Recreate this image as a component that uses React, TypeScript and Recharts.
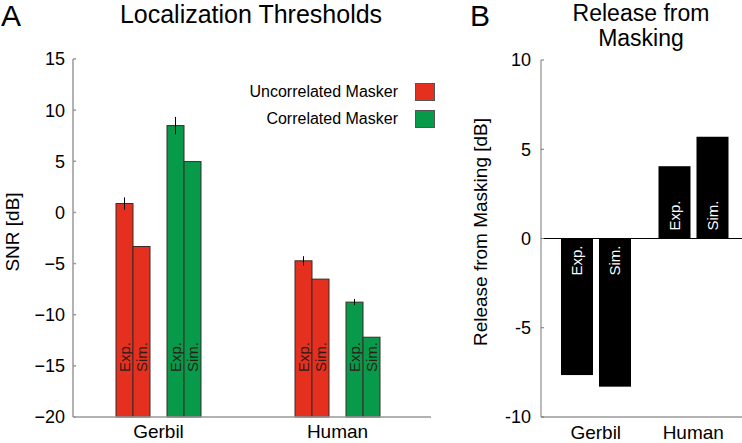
import { Bar, BarChart, ErrorBar, Legend, ReferenceLine, XAxis, YAxis } from "recharts";

const FONT = "'Liberation Sans', Arial, sans-serif";

const species = ["Gerbil", "Human"];

// localization thresholds, SNR [dB]
const uncorrExp = [0.87, -4.73];
const uncorrExpErr = [0.6, 0.45];
const uncorrSim = [-3.33, -6.52];
const corrExp = [8.49, -8.77];
const corrExpErr = [0.85, 0.3];
const corrSim = [4.97, -12.2];

// release from masking [dB]
const releaseExp = [-7.65, 4.05];
const releaseSim = [-8.3, 5.7];

const snrTicks = [-20, -15, -10, -5, 0, 5, 10, 15];
const releaseTicks = [-10, -5, 0, 5, 10];
const legendLabels = ["Uncorrelated Masker", "Correlated Masker"];

const RED = "#e6301f";
const GREEN = "#079a4a";
const SNR_MIN = -20;

const thresholdData = species.map((s, i) => ({
  species: s,
  uncorrExp: uncorrExp[i],
  uncorrExpErr: uncorrExpErr[i],
  uncorrSim: uncorrSim[i],
  corrExp: corrExp[i],
  corrExpErr: corrExpErr[i],
  corrSim: corrSim[i],
}));

const releaseData = species.map((s, i) => ({
  species: s,
  exp: releaseExp[i],
  sim: releaseSim[i],
}));

const minus = (v: number) => (v < 0 ? "\u2212" + Math.abs(v) : String(v));

function ThresholdBar(props: any) {
  const { x, y, width, height, fill, tag } = props;
  if (x == null || width == null) return null;
  const top = Math.min(y, y + height);
  const bottom = Math.max(y, y + height);
  const cx = x + width / 2;
  const ty = bottom - 45;
  return (
    <g>
      <rect x={x} y={top} width={width} height={bottom - top} fill={fill} stroke="#3b2b24" strokeWidth={1} />
      <text
        x={cx}
        y={ty}
        dy="0.35em"
        transform={`rotate(-90 ${cx} ${ty})`}
        fontSize={15}
        fontFamily={FONT}
        fill="#2a1c18"
      >
        {tag}
      </text>
    </g>
  );
}

function ReleaseBar(props: any) {
  const { x, y, width, height, tag, payload, dataKey } = props;
  if (x == null || width == null) return null;
  const top = Math.min(y, y + height);
  const bottom = Math.max(y, y + height);
  const cx = x + width / 2;
  const positive = payload[dataKey] >= 0;
  // label sits next to the zero line
  const ty = positive ? bottom - 8 : top + 7;
  return (
    <g>
      <rect x={x} y={top} width={width} height={bottom - top} fill="#000" />
      <text
        x={cx}
        y={ty}
        dy="0.35em"
        transform={`rotate(-90 ${cx} ${ty})`}
        textAnchor={positive ? "start" : "end"}
        fontSize={15}
        fontFamily={FONT}
        fill="#fff"
      >
        {tag}
      </text>
    </g>
  );
}

function ThresholdLegend() {
  const colors = [RED, GREEN];
  return (
    <div style={{ fontFamily: FONT, fontSize: 16, color: "#000" }}>
      {legendLabels.map((label, i) => (
        <div
          key={label}
          style={{ display: "flex", alignItems: "center", justifyContent: "flex-end", height: 27 }}
        >
          <span>{label}</span>
          <span
            style={{
              display: "inline-block",
              width: 20,
              height: 18,
              marginLeft: 17,
              background: colors[i],
              border: "1px solid #555",
              boxSizing: "border-box",
            }}
          />
        </div>
      ))}
    </div>
  );
}

export default function App() {
  const tickStyle = { fill: "#000", fontSize: 18, fontFamily: FONT };
  return (
    <div style={{ position: "absolute", left: 0, top: 0, width: 742, height: 443, background: "#fff", fontFamily: FONT }}>
      <div style={{ position: "absolute", left: 0, top: 0 }}>
        <BarChart
          width={450}
          height={443}
          data={thresholdData}
          margin={{ top: 59, right: 19, bottom: 0, left: 13 }}
          barSize={17}
          barGap={0}
        >
          <XAxis
            dataKey="species"
            height={26}
            padding={{ left: -4, right: 4 }}
            stroke="#999"
            strokeWidth={1.5}
            tickLine={false}
            tickSize={0}
            tickMargin={8}
            tick={{ ...tickStyle, fontSize: 19 }}
          />
          <YAxis
            width={60}
            domain={[SNR_MIN, 15]}
            ticks={snrTicks}
            tickFormatter={minus}
            interval={0}
            stroke="#999"
            strokeWidth={1.5}
            tickSize={-3}
            tickMargin={11}
            tick={tickStyle}
          />
          <Legend
            layout="vertical"
            align="center"
            verticalAlign="middle"
            content={() => <ThresholdLegend />}
            wrapperStyle={{ left: 230, top: 78, width: 205 }}
          />
          <Bar
            dataKey={(d: any) => [SNR_MIN, d.uncorrExp]}
            fill={RED}
            isAnimationActive={false}
            shape={(p: any) => <ThresholdBar {...p} tag="Exp." />}
          >
            <ErrorBar dataKey="uncorrExpErr" width={0} stroke="#000" strokeWidth={1} direction="y" />
          </Bar>
          <Bar
            dataKey={(d: any) => [SNR_MIN, d.uncorrSim]}
            fill={RED}
            isAnimationActive={false}
            shape={(p: any) => <ThresholdBar {...p} tag="Sim." />}
          />
          <Bar dataKey="gap" fill="none" isAnimationActive={false} legendType="none" />
          <Bar
            dataKey={(d: any) => [SNR_MIN, d.corrExp]}
            fill={GREEN}
            isAnimationActive={false}
            shape={(p: any) => <ThresholdBar {...p} tag="Exp." />}
          >
            <ErrorBar dataKey="corrExpErr" width={0} stroke="#000" strokeWidth={1} direction="y" />
          </Bar>
          <Bar
            dataKey={(d: any) => [SNR_MIN, d.corrSim]}
            fill={GREEN}
            isAnimationActive={false}
            shape={(p: any) => <ThresholdBar {...p} tag="Sim." />}
          />
        </BarChart>
      </div>

      <div style={{ position: "absolute", left: 450, top: 0 }}>
        <BarChart
          width={292}
          height={443}
          data={releaseData}
          margin={{ top: 60, right: 0, bottom: 0, left: 31 }}
          barSize={32}
          barGap={6}
        >
          <XAxis
            dataKey="species"
            height={26}
            padding={{ left: 6, right: 0 }}
            stroke="#999"
            strokeWidth={1.5}
            tickLine={false}
            tickSize={0}
            tickMargin={9}
            tick={{ ...tickStyle, fontSize: 19 }}
          />
          <YAxis
            width={60}
            domain={[-10, 10]}
            ticks={releaseTicks}
            interval={0}
            stroke="#777"
            tickSize={-3}
            tickMargin={13}
            tick={tickStyle}
          />
          <ReferenceLine y={0} stroke="#000" strokeWidth={1} />
          <Bar
            dataKey="exp"
            isAnimationActive={false}
            shape={(p: any) => <ReleaseBar {...p} tag="Exp." />}
          />
          <Bar
            dataKey="sim"
            isAnimationActive={false}
            shape={(p: any) => <ReleaseBar {...p} tag="Sim." />}
          />
        </BarChart>
      </div>

      <svg
        width={742}
        height={443}
        style={{ position: "absolute", left: 0, top: 0, pointerEvents: "none" }}
        fontFamily={FONT}
      >
        <text x={1} y={26} fontSize={30}>A</text>
        <text x={251} y={23} fontSize={25} textAnchor="middle">Localization Thresholds</text>
        <text x={19} y={232} fontSize={19} textAnchor="middle" transform="rotate(-90 19 232)">SNR [dB]</text>
        <text x={470} y={26} fontSize={30}>B</text>
        <text x={641} y={21} fontSize={23} textAnchor="middle">Release from</text>
        <text x={641} y={46} fontSize={23} textAnchor="middle">Masking</text>
        <text x={487} y={232} fontSize={19} textAnchor="middle" transform="rotate(-90 487 232)">
          Release from Masking [dB]
        </text>
      </svg>
    </div>
  );
}
